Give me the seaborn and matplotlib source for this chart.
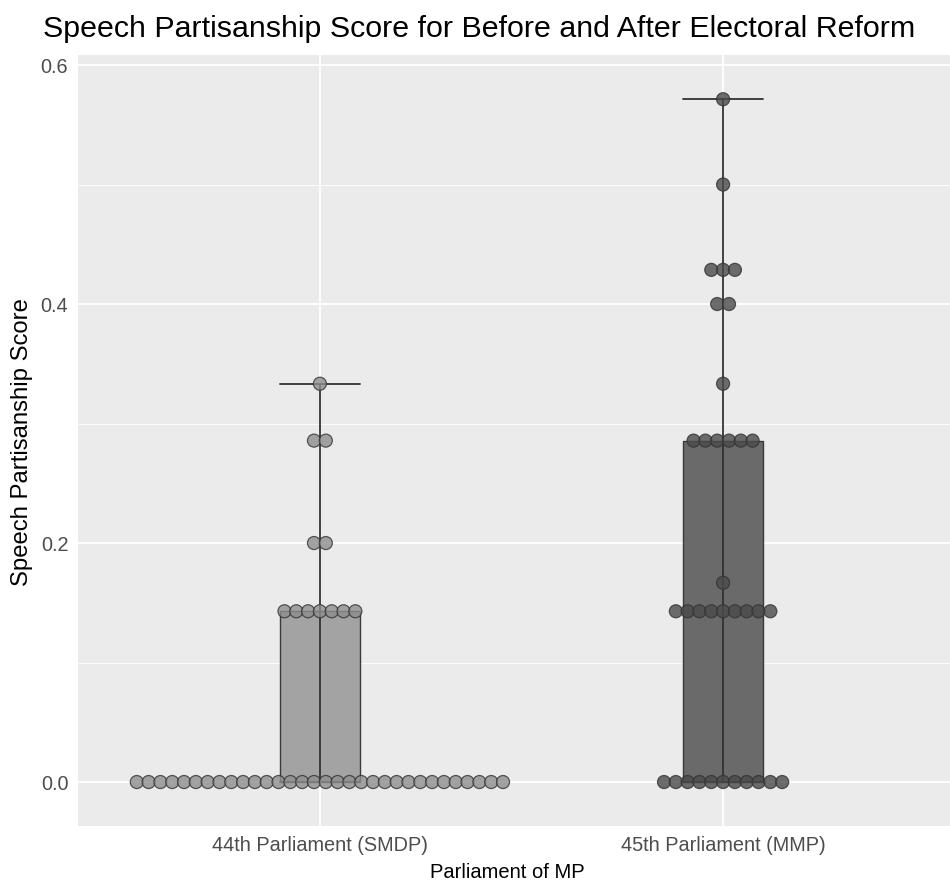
"""Speech partisanship score before and after electoral reform (bar + dot plot)."""

import matplotlib

matplotlib.use("Agg")
import matplotlib.pyplot as plt
import numpy as np
import pandas as pd
import seaborn as sns
from matplotlib.ticker import MultipleLocator

# --- data ------------------------------------------------------------------
PARLIAMENTS = ["44th Parliament (SMDP)", "45th Parliament (MMP)"]

SMDP_VALUES = [0.0, 0.1429, 0.2, 0.2857, 0.3333]
SMDP_COUNTS = [32, 7, 2, 2, 1]

MMP_VALUES = [0.0, 0.1429, 0.1667, 0.2857, 0.3333, 0.4, 0.4286, 0.5, 0.5714]
MMP_COUNTS = [11, 9, 1, 6, 1, 2, 3, 1, 1]

Y_TICKS = [0.0, 0.2, 0.4, 0.6]

# --- styling ---------------------------------------------------------------
BAR_COLORS = ["#a3a3a3", "#6a6a6a"]
DOT_COLORS = ["#8e8e8e", "#4a4a4a"]
DOT_STEP = 0.0293  # horizontal distance between stacked dots, category units


def upper_quartile(values):
    return np.percentile(values, 75)


def build_frames():
    rows = []
    dots = []
    groups = [(SMDP_VALUES, SMDP_COUNTS), (MMP_VALUES, MMP_COUNTS)]
    for index, (values, counts) in enumerate(groups):
        for value, count in zip(values, counts):
            offsets = (np.arange(count) - (count - 1) / 2) * DOT_STEP
            for offset in offsets:
                rows.append({"parliament": PARLIAMENTS[index], "score": value})
                dots.append({"parliament": PARLIAMENTS[index], "score": value, "xpos": index + offset})
    return pd.DataFrame(rows), pd.DataFrame(dots)


def main():
    scores_df, dots_df = build_frames()

    sns.set_theme(style="darkgrid")
    plt.rcParams["font.family"] = ["Liberation Sans", "DejaVu Sans"]

    fig = plt.figure(figsize=(9.5, 8.85), dpi=100)
    ax = fig.add_axes([78 / 950, 1 - 826 / 885, 887 / 950, 771 / 885])
    ax.set_facecolor("#ebebeb")

    sns.barplot(
        data=scores_df,
        x="parliament",
        y="score",
        hue="parliament",
        order=PARLIAMENTS,
        palette=BAR_COLORS,
        estimator=upper_quartile,
        errorbar=("pi", 100),
        capsize=0.2,
        width=0.2,
        edgecolor="#3a3a3a",
        linewidth=1.0,
        err_kws={"color": "#333333", "linewidth": 1.3},
        legend=False,
        ax=ax,
    )

    sns.scatterplot(
        data=dots_df,
        x="xpos",
        y="score",
        hue="parliament",
        hue_order=PARLIAMENTS,
        palette=DOT_COLORS,
        s=88,
        edgecolor="#333333",
        linewidth=0.9,
        alpha=0.8,
        legend=False,
        zorder=5,
        ax=ax,
    )

    ax.set_xlim(-0.6, 1.6)
    ax.set_ylim(-0.0368, 0.6084)
    ax.set_xticks([0, 1])
    ax.set_xticklabels(PARLIAMENTS)
    ax.set_yticks(Y_TICKS)
    ax.set_yticklabels([f"{t:.1f}" for t in Y_TICKS])
    ax.yaxis.set_minor_locator(MultipleLocator(0.1))

    ax.grid(which="major", color="white", linewidth=1.3)
    ax.grid(which="minor", axis="y", color="white", linewidth=0.6)
    ax.set_axisbelow(True)
    for spine in ax.spines.values():
        spine.set_visible(False)

    ax.tick_params(axis="both", which="major", length=4, width=1.1, color="#333333",
                   labelsize=14.3, labelcolor="#4d4d4d", pad=3)
    ax.tick_params(axis="both", which="minor", length=0)

    ax.set_xlabel("")
    ax.set_ylabel("")
    fig.text(507 / 950, 1 - 872 / 885, "Parliament of MP", ha="center", va="center",
             fontsize=14.5, color="black")
    fig.text(22 / 950, 1 - 442 / 885, "Speech Partisanship Score", ha="center", va="center",
             rotation=90, fontsize=17.2, color="black")
    fig.text(43 / 950, 1 - 37 / 885, "Speech Partisanship Score for Before and After Electoral Reform",
             ha="left", va="baseline", fontsize=21.9, color="black")

    fig.savefig("out.png", dpi=100, facecolor="white")
    plt.close(fig)


if __name__ == "__main__":
    main()
